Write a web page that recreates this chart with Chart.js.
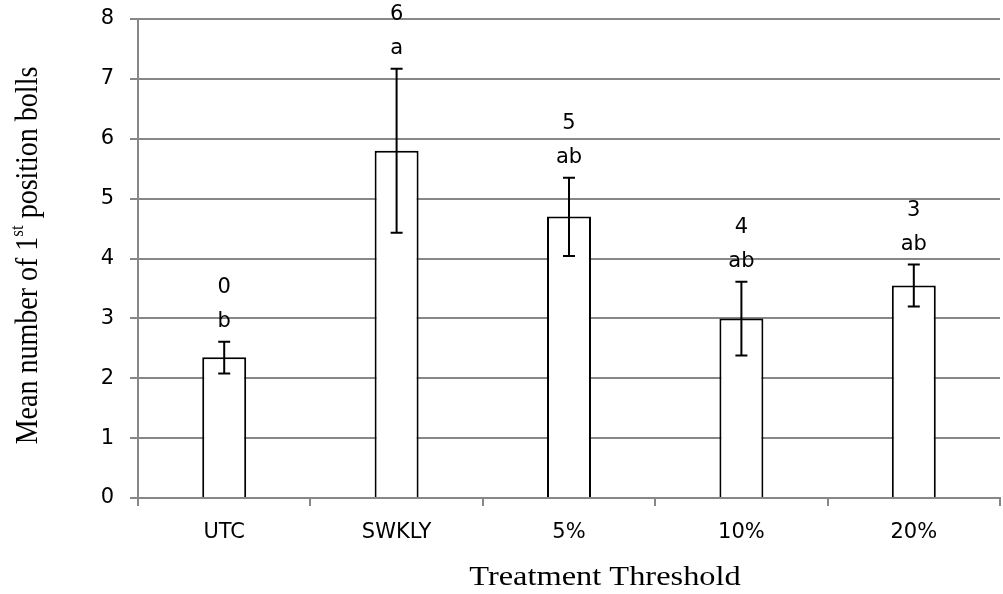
<!DOCTYPE html>
<html>
<head>
<meta charset="utf-8">
<script src="https://cdn.jsdelivr.net/npm/chart.js@4.4.0/dist/chart.umd.min.js"></script>
<style>
    html, body { margin: 0; padding: 0; background: #fff; }
    #wrap { width: 1003px; height: 594px; }
</style>
</head>
<body>
<div id="wrap"><canvas id="bolls"></canvas></div>
<script>
// values
let treatments = ['UTC', 'SWKLY', '5%', '10%', '20%']
let means = [2.35, 5.8, 4.7, 3.0, 3.55]
let err_low = [2.08, 4.43, 4.04, 2.38, 3.2]
let err_high = [2.61, 7.17, 5.35, 3.61, 3.9]
let counts = ['0', '6', '5', '4', '3']
let letters = ['b', 'a', 'ab', 'ab', 'ab']

let tick_font = { family: 'DejaVu Sans', size: 21 }
let grid_color = '#878787'

// error bars with caps
let error_bars = {
    id: 'error_bars',
    afterDatasetsDraw(chart) {
        let ctx = chart.ctx
        let y = chart.scales.y
        let meta = chart.getDatasetMeta(0)
        ctx.save()
        ctx.strokeStyle = '#000'
        ctx.lineWidth = 2
        for (let i = 0; i < meta.data.length; i++) {
            let x = meta.data[i].x
            let top = y.getPixelForValue(err_high[i])
            let bot = y.getPixelForValue(err_low[i])
            ctx.beginPath()
            ctx.moveTo(x, top)
            ctx.lineTo(x, bot)
            ctx.moveTo(x - 6, top)
            ctx.lineTo(x + 6, top)
            ctx.moveTo(x - 6, bot)
            ctx.lineTo(x + 6, bot)
            ctx.stroke()
        }
        ctx.restore()
    }
}

// count and letter labels above the error bars
let bar_labels = {
    id: 'bar_labels',
    afterDatasetsDraw(chart) {
        let ctx = chart.ctx
        let y = chart.scales.y
        let meta = chart.getDatasetMeta(0)
        ctx.save()
        ctx.fillStyle = '#000'
        ctx.font = '21px "DejaVu Sans"'
        ctx.textAlign = 'center'
        ctx.textBaseline = 'middle'
        for (let i = 0; i < meta.data.length; i++) {
            let x = meta.data[i].x
            let top = y.getPixelForValue(err_high[i])
            ctx.fillText(letters[i], x, top - 20)
            ctx.fillText(counts[i], x, top - 54)
        }
        ctx.restore()
    }
}

// axis titles, the y one has a superscript "st"
let axis_titles = {
    id: 'axis_titles',
    afterDraw(chart) {
        let ctx = chart.ctx
        let area = chart.chartArea
        ctx.save()
        ctx.fillStyle = '#000'

        // x title
        ctx.save()
        ctx.translate(605, 585)
        ctx.scale(1.2, 1)
        ctx.font = '27px "Liberation Serif"'
        ctx.textAlign = 'center'
        ctx.textBaseline = 'alphabetic'
        ctx.fillText('Treatment Threshold', 0, 0)
        ctx.restore()

        // y title
        let big = '28px "Liberation Serif"'
        let small = '17px "Liberation Serif"'
        let parts = [['Mean number of 1', big, 0], ['st', small, -10], [' position bolls', big, 0]]
        let total = 0
        for (let p of parts) {
            ctx.font = p[1]
            total += ctx.measureText(p[0]).width
        }
        ctx.translate(29, (area.top + area.bottom) / 2 - 3)
        ctx.scale(1.1, 1)
        ctx.rotate(-Math.PI / 2)
        ctx.textBaseline = 'middle'
        ctx.textAlign = 'left'
        let pos = -total / 2
        for (let p of parts) {
            ctx.font = p[1]
            ctx.fillText(p[0], pos, p[2])
            pos += ctx.measureText(p[0]).width
        }
        ctx.restore()
    }
}

let chart = new Chart(document.getElementById('bolls').getContext('2d'), {
    type: 'bar',
    data: {
        labels: treatments,
        datasets: [{
            data: means,
            backgroundColor: '#fff',
            borderColor: '#000',
            borderWidth: 2,
            categoryPercentage: 1,
            barPercentage: 0.255
        }]
    },
    options: {
        responsive: true,
        maintainAspectRatio: false,
        animation: false,
        layout: { padding: { left: 50, right: 3, top: 19, bottom: 0 } },
        plugins: {
            legend: { display: false },
            tooltip: { enabled: false }
        },
        scales: {
            x: {
                grid: {
                    drawOnChartArea: false,
                    drawTicks: true,
                    tickLength: 8,
                    color: grid_color,
                    lineWidth: 2
                },
                border: { color: grid_color, width: 2 },
                ticks: { color: '#000', font: tick_font, padding: 14, maxRotation: 0 },
                afterFit(scale) {
                    scale.height = 96
                    scale.paddingLeft = 0
                    scale.paddingRight = 0
                }
            },
            y: {
                min: 0,
                max: 8,
                ticks: { stepSize: 1, color: '#000', font: tick_font, padding: 16 },
                grid: { color: grid_color, lineWidth: 2, tickLength: 8 },
                border: { color: grid_color, width: 2 },
                afterFit(scale) {
                    scale.width = 88
                    scale.paddingTop = 0
                    scale.paddingBottom = 0
                }
            }
        }
    },
    plugins: [error_bars, bar_labels, axis_titles]
})
</script>
</body>
</html>
